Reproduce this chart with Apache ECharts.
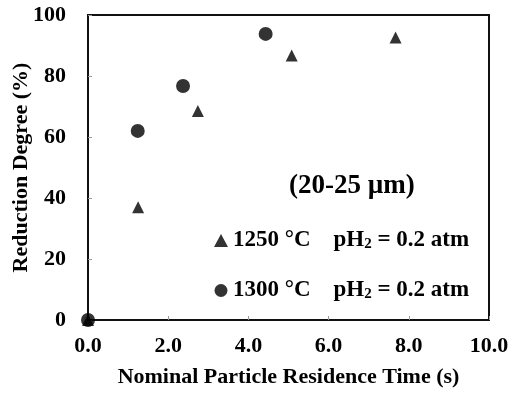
<!DOCTYPE html>
<html>
<head>
<meta charset="utf-8">
<script src="https://cdn.jsdelivr.net/npm/echarts@6/dist/echarts.min.js"></script>
<style>
  html, body { margin: 0; padding: 0; background: #fff; }
  #chart { width: 511px; height: 393px; }
</style>
</head>
<body>
<div id="chart"></div>
<script>
// residence time (s) vs reduction degree (%)
var t1250 = [0, 1.25, 2.74, 5.08, 7.67];
var r1250 = [0, 37, 68.5, 86.7, 92.6];
var t1300 = [0, 1.24, 2.37, 4.43];
var r1300 = [0, 62, 76.7, 93.8];
var xTicks = ['0.0', '2.0', '4.0', '6.0', '8.0', '10.0'];

var font = 'Liberation Serif';

function pairs(xs, ys) {
  return xs.map(function (x, i) { return [x, ys[i]]; });
}

var chart = echarts.init(document.getElementById('chart'));
chart.setOption({
  animation: false,
  title: {
    text: '(20-25 µm)',
    left: 284, top: 168,
    textStyle: { fontFamily: font, fontWeight: 'bold', fontSize: 27, color: '#000' }
  },
  legend: {
    orient: 'vertical',
    left: 209, top: 224,
    itemGap: 27,
    itemWidth: 14, itemHeight: 13,
    data: ['1250', '1300'],
    formatter: function (n) { return n + ' °C    pH{s|2} = 0.2 atm'; },
    textStyle: {
      fontFamily: font, fontWeight: 'bold', fontSize: 23, color: '#000',
      rich: {
        s: { fontFamily: font, fontWeight: 'bold', fontSize: 15, color: '#000', padding: [7, 0, 0, 0] }
      }
    }
  },
  grid: {
    left: 88, right: 22, top: 15, bottom: 73,
    outerBoundsMode: 'none',
    show: true, borderColor: '#111', borderWidth: 2
  },
  xAxis: {
    type: 'value', min: 0, max: 10, interval: 2,
    name: 'Nominal Particle Residence Time (s)',
    nameLocation: 'middle', nameGap: 46,
    nameMoveOverlap: false,
    nameTextStyle: { fontFamily: font, fontWeight: 'bold', fontSize: 22, color: '#000' },
    axisLine: { lineStyle: { color: '#111', width: 2 } },
    axisTick: { inside: true, length: 4, lineStyle: { color: '#999' } },
    splitLine: { show: false },
    axisLabel: {
      margin: 15, fontFamily: font, fontWeight: 'bold', fontSize: 22, color: '#000',
      formatter: function (v) { return xTicks[Math.round(v / 2)]; }
    }
  },
  yAxis: {
    type: 'value', min: 0, max: 100, interval: 20,
    name: 'Reduction Degree (%)',
    nameLocation: 'middle', nameGap: 56,
    nameMoveOverlap: false,
    nameTextStyle: { fontFamily: font, fontWeight: 'bold', fontSize: 22, color: '#000' },
    axisLine: { show: true, lineStyle: { color: '#111', width: 2 } },
    axisTick: { show: true, inside: true, length: 4, lineStyle: { color: '#999' } },
    splitLine: { show: false },
    axisLabel: { margin: 22, fontFamily: font, fontWeight: 'bold', fontSize: 22, color: '#000' }
  },
  series: [
    {
      name: '1250', type: 'scatter', symbol: 'triangle', symbolSize: 12,
      itemStyle: { color: '#000' },
      data: pairs(t1250, r1250)
    },
    {
      name: '1300', type: 'scatter', symbol: 'circle', symbolSize: 14,
      itemStyle: { color: '#000' },
      data: pairs(t1300, r1300)
    }
  ]
});
</script>
</body>
</html>
